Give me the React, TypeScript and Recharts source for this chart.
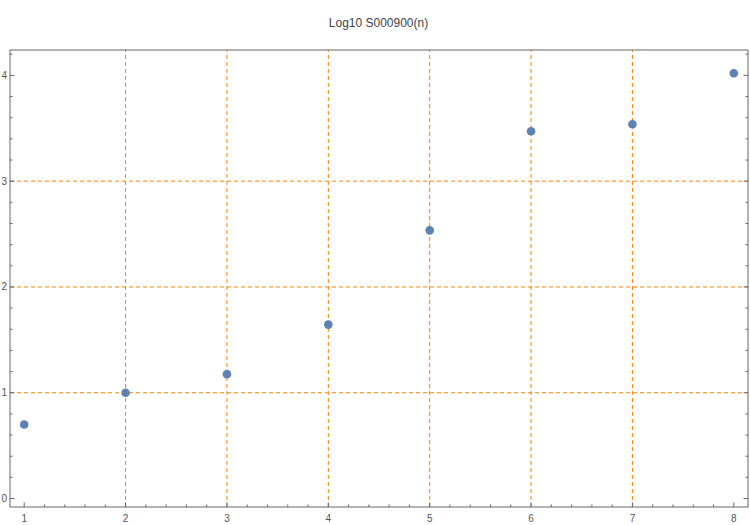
import {
  ScatterChart,
  Scatter,
  XAxis,
  YAxis,
  ReferenceLine,
} from "recharts";

const nValues = [1, 2, 3, 4, 5, 6, 7, 8];
const logValues = [0.7, 1.0, 1.176, 1.644, 2.535, 3.472, 3.538, 4.02];

const xTicks = [
  1, 1.2, 1.4, 1.6, 1.8, 2, 2.2, 2.4, 2.6, 2.8, 3, 3.2, 3.4, 3.6, 3.8, 4, 4.2, 4.4, 4.6, 4.8,
  5, 5.2, 5.4, 5.6, 5.8, 6, 6.2, 6.4, 6.6, 6.8, 7, 7.2, 7.4, 7.6, 7.8, 8,
];
const yTicks = [
  0, 0.2, 0.4, 0.6, 0.8, 1, 1.2, 1.4, 1.6, 1.8, 2, 2.2, 2.4, 2.6, 2.8, 3, 3.2, 3.4, 3.6, 3.8,
  4, 4.2,
];
const gridX = [2, 3, 4, 5, 6, 7];
const gridY = [1, 2, 3];

const data = nValues.map((n, i) => ({ n, v: logValues[i] }));

const FRAME = "#666666";
const LABEL = "#555555";
const ORANGE = "#ff8000";
const xDomain = [0.86, 8.14];
const yDomain = [-0.08, 4.24];

const isMajor = (v: number) => Math.abs(v - Math.round(v)) < 1e-6;
const len = (v: number) => (isMajor(v) ? 4.5 : 2.5);

const BottomTick = ({ x, y, payload }: any) => (
  <g>
    <line x1={x} x2={x} y1={y} y2={y - len(payload.value)} stroke={FRAME} />
    {isMajor(payload.value) && (
      <text x={x} y={y + 15} textAnchor="middle" fontSize={10} fill={LABEL}>
        {Math.round(payload.value)}
      </text>
    )}
  </g>
);

const TopTick = ({ x, y, payload }: any) => (
  <line x1={x} x2={x} y1={y} y2={y + len(payload.value)} stroke={FRAME} />
);

const LeftTick = ({ x, y, payload }: any) => (
  <g>
    <line x1={x} x2={x + len(payload.value)} y1={y} y2={y} stroke={FRAME} />
    {isMajor(payload.value) && (
      <text x={x - 3} y={y + 3.5} textAnchor="end" fontSize={10} fill={LABEL}>
        {Math.round(payload.value)}
      </text>
    )}
  </g>
);

const RightTick = ({ x, y, payload }: any) => (
  <line x1={x} x2={x - len(payload.value)} y1={y} y2={y} stroke={FRAME} />
);

const Dot = ({ cx, cy }: any) => <circle cx={cx} cy={cy} r={4.3} fill="#5e81b5" />;

export default function App() {
  return (
    <div
      style={{
        position: "absolute",
        left: 0,
        top: 0,
        width: 750,
        height: 525,
        background: "#fff",
        fontFamily: "'Liberation Sans', Arial, sans-serif",
      }}
    >
      <div
        style={{
          position: "absolute",
          top: 16,
          left: 0,
          width: 757,
          textAlign: "center",
          fontSize: 12,
          color: "#444",
        }}
      >
        Log10 S000900(n)
      </div>
      <ScatterChart
        width={750}
        height={525}
        margin={{ top: 49, right: 1, bottom: 17, left: 9 }}
      >
        <XAxis
          xAxisId="b"
          dataKey="n"
          type="number"
          orientation="bottom"
          domain={xDomain}
          allowDataOverflow
          ticks={xTicks}
          interval={0}
          height={1}
          tickSize={0}
          tickMargin={0}
          tickLine={false}
          axisLine={{ stroke: FRAME }}
          tick={<BottomTick />}
        />
        <XAxis
          xAxisId="t"
          type="number"
          orientation="top"
          domain={xDomain}
          allowDataOverflow
          ticks={xTicks}
          interval={0}
          height={1}
          tickSize={0}
          tickMargin={0}
          tickLine={false}
          axisLine={{ stroke: FRAME }}
          tick={<TopTick />}
        />
        <YAxis
          yAxisId="l"
          dataKey="v"
          type="number"
          orientation="left"
          domain={yDomain}
          allowDataOverflow
          ticks={yTicks}
          interval={0}
          width={1}
          tickSize={0}
          tickMargin={0}
          tickLine={false}
          axisLine={{ stroke: FRAME }}
          tick={<LeftTick />}
        />
        <YAxis
          yAxisId="r"
          type="number"
          orientation="right"
          domain={yDomain}
          allowDataOverflow
          ticks={yTicks}
          interval={0}
          width={1}
          tickSize={0}
          tickMargin={0}
          tickLine={false}
          axisLine={{ stroke: FRAME }}
          tick={<RightTick />}
        />
        {gridX.map((g) => (
          <ReferenceLine
            key={"x" + g}
            x={g}
            xAxisId="b"
            yAxisId="l"
            stroke={ORANGE}
            strokeDasharray="4 3"
          />
        ))}
        {gridY.map((g) => (
          <ReferenceLine
            key={"y" + g}
            y={g}
            xAxisId="b"
            yAxisId="l"
            stroke={ORANGE}
            strokeDasharray="4 3"
          />
        ))}
        <Scatter
          data={data}
          xAxisId="b"
          yAxisId="l"
          shape={<Dot />}
          isAnimationActive={false}
        />
      </ScatterChart>
    </div>
  );
}
